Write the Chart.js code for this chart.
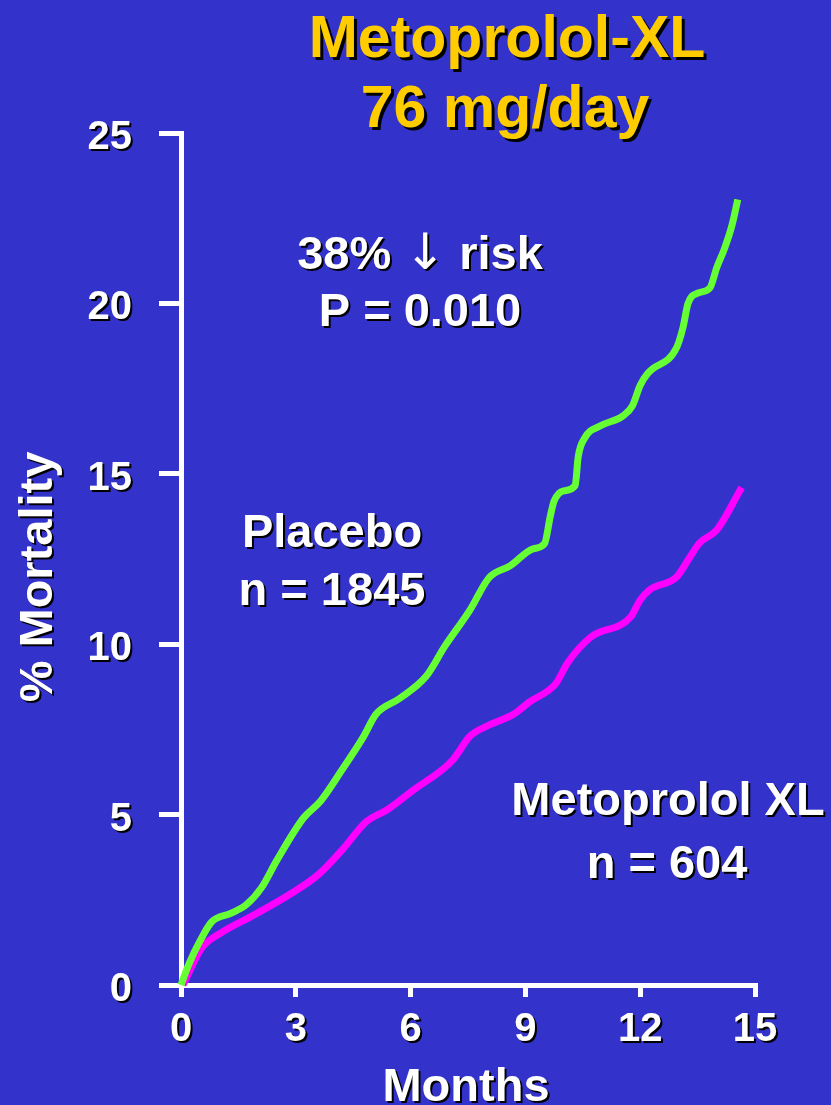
<!DOCTYPE html>
<html>
<head>
<meta charset="utf-8">
<script src="https://cdn.jsdelivr.net/npm/chart.js@4.4.1/dist/chart.umd.min.js"></script>
<style>
  html, body { margin: 0; padding: 0; background: #3333cc; }
  #wrap { width: 831px; height: 1105px; }
</style>
</head>
<body>
<div id="wrap"><canvas id="mortalityChart" width="831" height="1105"></canvas></div>
<script>
/* =========================
    Data
========================= */
const placeboMonths    = [0, 0.2, 0.5, 0.8, 1.3, 1.7, 2.1, 2.5, 3.2, 3.65, 4.2, 4.75, 5.1, 5.7, 6.4, 6.9, 7.55, 8.05, 8.6, 9.2, 9.5, 9.65, 9.75, 10.0, 10.3, 10.38, 10.55, 10.95, 11.55, 11.8, 12.0, 12.2, 12.95, 13.12, 13.25, 13.5, 13.82, 14.0, 14.2, 14.4, 14.55];
const placeboMortality = [0, 0.6, 1.3, 1.85, 2.1, 2.35, 2.85, 3.65, 4.9, 5.4, 6.3, 7.25, 7.95, 8.4, 9.05, 9.95, 11.0, 11.95, 12.3, 12.8, 12.95, 13.75, 14.2, 14.5, 14.65, 15.5, 16.05, 16.4, 16.7, 17.0, 17.6, 17.95, 18.7, 19.3, 20.0, 20.3, 20.45, 21.05, 21.6, 22.3, 23.05];

const metoMonths    = [0.05, 0.55, 1.0, 1.9, 2.9, 3.6, 4.2, 4.85, 5.4, 6.05, 7.1, 7.55, 8.0, 8.7, 9.1, 9.8, 10.1, 10.7, 11.75, 12.0, 12.25, 12.95, 13.3, 13.55, 14.0, 14.65];
const metoMortality = [0, 1.1, 1.5, 2.05, 2.7, 3.25, 3.95, 4.8, 5.15, 5.7, 6.6, 7.3, 7.6, 7.95, 8.3, 8.85, 9.45, 10.2, 10.8, 11.3, 11.6, 11.97, 12.56, 12.97, 13.35, 14.6];

const monthTicks     = [0, 3, 6, 9, 12, 15];
const mortalityTicks = [0, 5, 10, 15, 20, 25];

const FONT = '"Liberation Sans", Arial, Helvetica, sans-serif';

function toPoints(xs, ys) {
    return xs.map((x, i) => ({ x: x, y: ys[i] }));
}

/* =========================
    Background + slide texts
========================= */
function setShadow(ctx, off) {
    ctx.shadowColor = '#000000';
    ctx.shadowOffsetX = off;
    ctx.shadowOffsetY = off;
}

function drawText(ctx, str, x, y, size, color, off) {
    ctx.save();
    ctx.font = `bold ${size}px ${FONT}`;
    ctx.textAlign = 'center';
    ctx.textBaseline = 'alphabetic';
    setShadow(ctx, off);
    ctx.fillStyle = color;
    ctx.fillText(str, x, y);
    ctx.restore();
}

// "38% ↓ risk" - the arrow is a thin, tall glyph on the slide
function drawRiskLine(ctx, cx, y) {
    const parts = [
        { t: '38% ', f: `bold 47px ${FONT}` },
        { t: '\u2193', f: `normal 50px "DejaVu Sans", ${FONT}` },
        { t: ' risk', f: `bold 47px ${FONT}` }
    ];
    ctx.save();
    ctx.textBaseline = 'alphabetic';
    ctx.textAlign = 'left';
    let total = 0;
    parts.forEach(p => { ctx.font = p.f; p.w = ctx.measureText(p.t).width; total += p.w; });
    let x = cx - total / 2;
    setShadow(ctx, 2);
    ctx.fillStyle = '#ffffff';
    parts.forEach(p => { ctx.font = p.f; ctx.fillText(p.t, x, y); x += p.w; });
    ctx.restore();
}

const slidePlugin = {
    id: 'slide',
    beforeDraw(chart) {
        const ctx = chart.ctx;
        ctx.save();
        ctx.fillStyle = '#3333cc';
        ctx.fillRect(0, 0, chart.width, chart.height);
        ctx.restore();
    },
    // tick labels (z: 1) are drawn after the datasets, give them the slide shadow
    afterDatasetsDraw(chart) {
        const ctx = chart.ctx;
        ctx.save();
        setShadow(ctx, 2);
    },
    afterDraw(chart) {
        const ctx = chart.ctx;
        ctx.restore();

        drawText(ctx, 'Metoprolol-XL', 507, 57, 59, '#ffcc00', 3);
        drawText(ctx, '76 mg/day', 505, 127, 59, '#ffcc00', 3);

        drawRiskLine(ctx, 420, 269);
        drawText(ctx, 'P = 0.010', 420, 326, 47, '#ffffff', 2);

        drawText(ctx, 'Placebo', 332, 547, 47, '#ffffff', 2);
        drawText(ctx, 'n = 1845', 332, 605, 47, '#ffffff', 2);

        drawText(ctx, 'Metoprolol XL', 668, 815, 47, '#ffffff', 2);
        drawText(ctx, 'n = 604', 667, 878, 47, '#ffffff', 2);

        // axis titles
        drawText(ctx, 'Months', 466, 1101, 47, '#ffffff', 2);
        ctx.save();
        ctx.translate(52, 577);
        ctx.rotate(-Math.PI / 2);
        drawText(ctx, '% Mortality', 0, 0, 47, '#ffffff', 2);
        ctx.restore();
    }
};

/* =========================
    Chart
========================= */
const ctx = document.getElementById('mortalityChart').getContext('2d');
new Chart(ctx, {
    type: 'line',
    data: {
        datasets: [{
            label: 'Placebo',
            data: toPoints(placeboMonths, placeboMortality),
            borderColor: '#66ff33',
            borderWidth: 7,
            pointRadius: 0,
            cubicInterpolationMode: 'monotone',
            borderCapStyle: 'butt',
            clip: false
        }, {
            label: 'Metoprolol XL',
            data: toPoints(metoMonths, metoMortality),
            borderColor: '#ff00ff',
            borderWidth: 7,
            pointRadius: 0,
            cubicInterpolationMode: 'monotone',
            borderCapStyle: 'butt',
            clip: false
        }]
    },
    options: {
        responsive: false,
        animation: false,
        devicePixelRatio: 1,
        layout: { padding: { top: 133, right: 76, left: 0, bottom: 0 } },
        plugins: {
            legend: { display: false },
            tooltip: { enabled: false }
        },
        scales: {
            x: {
                type: 'linear',
                min: 0,
                max: 15,
                afterBuildTicks: s => { s.ticks = monthTicks.map(v => ({ value: v })); },
                afterFit: s => { s.height = 120; },
                border: { display: true, color: '#ffffff', width: 5 },
                grid: { drawOnChartArea: false, color: '#ffffff', lineWidth: 5, tickLength: 12 },
                ticks: {
                    z: 1,
                    color: '#ffffff',
                    padding: 9,
                    maxRotation: 0,
                    font: { family: FONT, size: 40, weight: 'bold' }
                }
            },
            y: {
                type: 'linear',
                min: 0,
                max: 25,
                afterBuildTicks: s => { s.ticks = mortalityTicks.map(v => ({ value: v })); },
                afterFit: s => { s.width = 181; },
                border: { display: true, color: '#ffffff', width: 5 },
                grid: { drawOnChartArea: false, color: '#ffffff', lineWidth: 5, tickLength: 22 },
                ticks: {
                    z: 1,
                    color: '#ffffff',
                    padding: 27,
                    labelOffset: 5,
                    font: { family: FONT, size: 40, weight: 'bold' }
                }
            }
        }
    },
    plugins: [slidePlugin]
});
</script>
</body>
</html>
